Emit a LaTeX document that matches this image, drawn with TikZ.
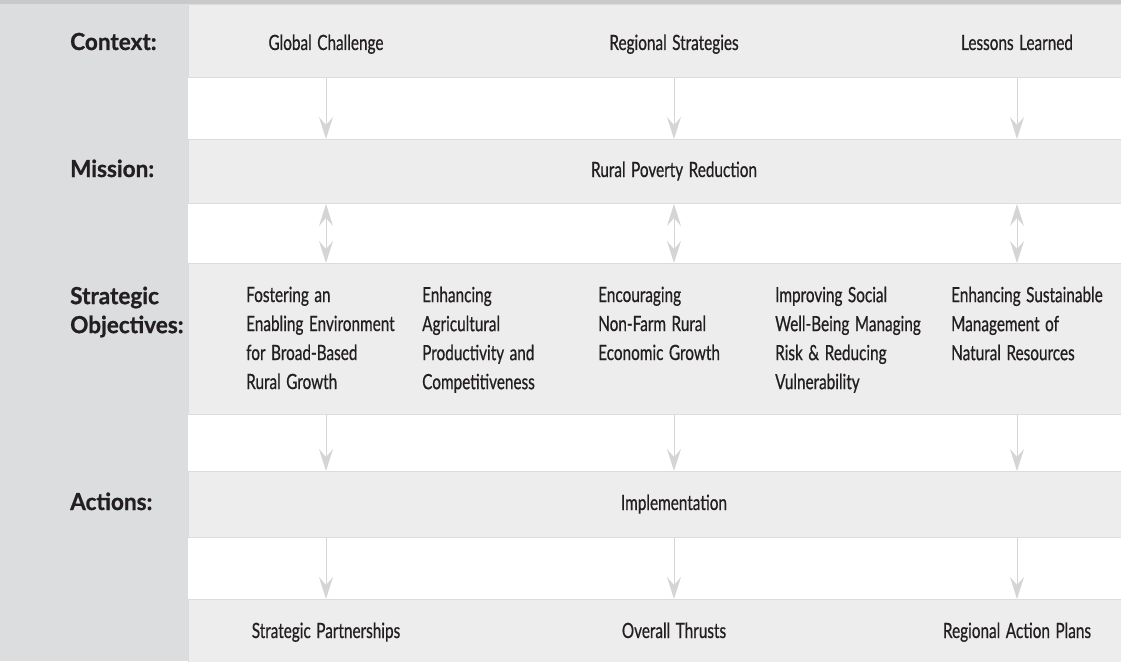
\documentclass[tikz,border=0pt]{standalone}
\usepackage{fontspec}
\setmainfont{Lato}[FakeStretch=0.73, FakeBold=0.6, WordSpace=1.4]
\newfontfamily\rowfont{Lato}[FakeStretch=0.96, BoldFeatures={FakeBold=0.8}]
\usetikzlibrary{arrows.meta}
\definecolor{bandgray}{HTML}{EDEDED}
\definecolor{sidegray}{HTML}{DCDDDF}
\definecolor{topgray}{HTML}{C8C9CB}
\definecolor{rulegray}{HTML}{DCDCDC}
\definecolor{arrowgray}{HTML}{D4D5D7}
\definecolor{inkgray}{HTML}{231F20}
\tikzset{
    band/.style={draw=rulegray, line width=1pt, fill=bandgray, anchor=north west, minimum width=934pt, inner sep=0pt},
    rowlabel/.style={font=\rowfont\bfseries\fontsize{23.5}{29}\selectfont, text=inkgray, anchor=base west, inner sep=0pt, align=left},
    item/.style={font=\fontsize{21}{29}\selectfont, text=inkgray, anchor=base, inner sep=0pt},
    objective/.style={item, align=left, anchor=north west},
    head/.tip={Stealth[length=22pt, width=14pt, inset=8pt]},
    flow/.style={draw=arrowgray, line width=1pt, -head},
    twoway/.style={draw=arrowgray, line width=1pt, head-head}
}
\begin{document}
\begin{tikzpicture}[x=1pt, y=-1pt]
        \useasboundingbox (0,0) rectangle (1121,661);
        \fill[white] (0,0) rectangle (1121,661);
        \fill[topgray] (0,0) rectangle (1121,4);
        \fill[sidegray] (0,4) rectangle (188,661);
        % Bandas
        \node[band, minimum height=73pt] (ctxband) at (188,4) {};
        \node[band, minimum height=64pt] (misband) at (188,139) {};
        \node[band, minimum height=151pt] (objband) at (188,263) {};
        \node[band, minimum height=66pt] (actband) at (188,471) {};
        \node[band, minimum height=64pt] (outband) at (188,599) {};
        % Rotulos
        \node[rowlabel] (ctxlabel) at (70,50) {Context:};
        \node[rowlabel] (mislabel) at (70,177) {Mission:};
        \node[rowlabel, anchor=north west] (objlabel) at (70,286.5) {Strategic\\Objectives:};
        \node[rowlabel] (actlabel) at (70,510) {Actions:};
        % Contexto
        \node[item] (global) at (326,50) {Global Challenge};
        \node[item] (regional) at (674,50) {Regional Strategies};
        \node[item] (lessons) at (1017,50) {Lessons Learned};
        % Mision
        \node[item] (mission) at (674,177) {Rural Poverty Reduction};
        % Objetivos
        \node[objective] (obj1) at (246,286.5) {Fostering an\\Enabling Environment\\for Broad-Based\\Rural Growth};
        \node[objective] (obj2) at (422,286.5) {Enhancing\\Agricultural\\Productivity and\\Competitiveness};
        \node[objective] (obj3) at (598,286.5) {Encouraging\\Non-Farm Rural\\Economic Growth};
        \node[objective] (obj4) at (775,286.5) {Improving Social\\Well-Being Managing\\Risk \& Reducing\\Vulnerability};
        \node[objective] (obj5) at (951,286.5) {Enhancing Sustainable\\Management of\\Natural Resources};
        % Acciones
        \node[item] (impl) at (674,510) {Implementation};
        \node[item] (partners) at (326,638) {Strategic Partnerships};
        \node[item] (thrusts) at (674,638) {Overall Thrusts};
        \node[item] (plans) at (1017,638) {Regional Action Plans};
        % Flechas
        \foreach \col/\low in {global/partners, regional/thrusts, lessons/plans} {
            \draw[flow] (ctxband.south -| \col) -- (misband.north -| \col);
            \draw[twoway] (misband.south -| \col) -- (objband.north -| \col);
            \draw[flow] (objband.south -| \low) -- (actband.north -| \low);
            \draw[flow] (actband.south -| \low) -- (outband.north -| \low);
        }
    \end{tikzpicture}
\end{document}
